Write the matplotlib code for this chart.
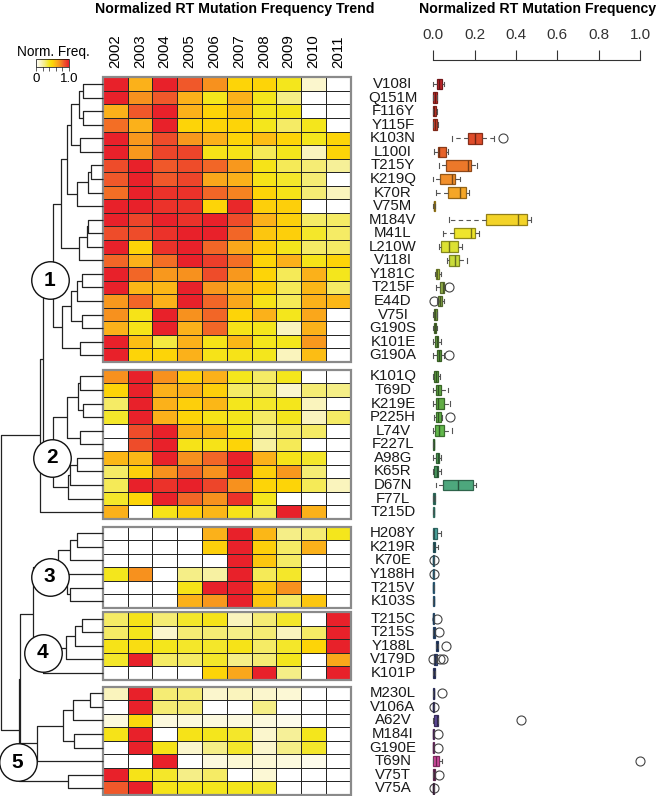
import numpy as np
import matplotlib
matplotlib.use("Agg")
import matplotlib.pyplot as plt
from matplotlib.colors import LinearSegmentedColormap, to_rgb
from matplotlib.patches import Rectangle
from matplotlib.transforms import blended_transform_factory
from matplotlib.cm import ScalarMappable

plt.rcParams["font.family"] = ["Liberation Sans", "DejaVu Sans"]

# ------------------------------------------------------------
# Data
# ------------------------------------------------------------
years = ["2002", "2003", "2004", "2005", "2006", "2007", "2008", "2009", "2010", "2011"]

group1 = ["V108I", "Q151M", "F116Y", "Y115F", "K103N", "L100I", "T215Y", "K219Q", "K70R",
          "V75M", "M184V", "M41L", "L210W", "V118I", "Y181C", "T215F", "E44D", "V75I",
          "G190S", "K101E", "G190A"]
group2 = ["K101Q", "T69D", "K219E", "P225H", "L74V", "F227L", "A98G", "K65R", "D67N",
          "F77L", "T215D"]
group3 = ["H208Y", "K219R", "K70E", "Y188H", "T215V", "K103S"]
group4 = ["T215C", "T215S", "Y188L", "V179D", "K101P"]
group5 = ["M230L", "V106A", "A62V", "M184I", "G190E", "T69N", "V75T", "V75A"]

freq1 = [
    [1.00, .62, 1.00, .85, .72, .50, .50, .40, .12, 0],
    [1.00, .72, .85, .62, .40, .62, .40, .25, 0, 0],
    [.62, .85, 1.00, .62, .50, .58, .40, .40, 0, 0],
    [.80, .62, 1.00, .50, .50, .50, .40, .30, .40, 0],
    [1.00, .70, .88, .70, .62, .50, .58, .50, .40, .50],
    [1.00, .70, .90, .90, .42, .42, .32, .40, .15, .50],
    [.88, 1.00, .85, .88, .82, .70, .42, .32, .28, .22],
    [.85, 1.00, .85, .90, .65, .62, .42, .38, .28, 0],
    [.80, 1.00, .95, .95, .82, .75, .50, .42, .28, .15],
    [1.00, 1.00, .95, .95, .50, .98, .52, .52, 0, 0],
    [1.00, .90, 1.00, .95, 1.00, .88, .62, .52, .30, .30],
    [.88, .88, .95, 1.00, 1.00, .82, .55, .52, .38, .30],
    [1.00, .50, .95, 1.00, .82, .65, .52, .40, .30, .30],
    [.82, .62, .80, 1.00, .92, .80, .50, .62, .42, .50],
    [1.00, .82, .70, .72, .88, .70, .50, .32, .62, .40],
    [1.00, .60, .60, 1.00, .70, .60, .52, .32, .60, .30],
    [.70, .82, .62, 1.00, .82, .65, .42, .32, .62, .60],
    [.72, .42, 1.00, .72, .82, .50, .62, .40, .65, 0],
    [.62, .42, 1.00, .62, .82, .42, .40, .15, .62, 0],
    [1.00, .58, .35, .62, .42, .60, .40, .40, .70, 0],
    [1.00, .50, .50, .62, .42, .42, .40, .15, .58, 0],
]
freq2 = [
    [.72, 1.00, .72, .52, .62, .40, .30, .40, 0, 0],
    [.50, 1.00, .62, .62, .52, .30, .30, .12, .28, .25],
    [.30, 1.00, .62, .52, .60, .40, .38, .40, .15, 0],
    [.38, 1.00, .62, .50, .42, .40, .30, .40, .15, .30],
    [0, .88, 1.00, .62, .60, .40, .25, .30, .30, 0],
    [0, .88, 1.00, .42, .42, .50, .20, .32, 0, 0],
    [.60, .60, 1.00, .72, .82, 1.00, .62, .42, .38, 0],
    [.30, .52, .72, .82, .72, 1.00, .52, .70, .28, 0],
    [.32, 1.00, .95, 1.00, .90, .72, .50, .50, .32, .15],
    [.38, .50, 1.00, .82, .72, .95, .40, 0, 0, 0],
    [.62, 0, .42, .52, .60, .42, .32, 1.00, .62, 0],
]
freq3 = [
    [0, 0, 0, 0, .62, 1.00, .60, .25, .28, .40],
    [0, 0, 0, 0, .52, 1.00, .52, .30, .62, 0],
    [0, 0, 0, 0, 0, 1.00, .55, .30, 0, 0],
    [.40, .72, 0, .25, .20, 1.00, .32, .38, 0, 0],
    [0, 0, 0, .42, 1.00, 1.00, .55, .72, 0, 0],
    [0, 0, 0, .62, .70, 1.00, .55, .30, .55, 0],
]
freq4 = [
    [.30, .42, .28, .38, .42, .15, .28, .38, 0, 1.00],
    [.30, .40, .12, .28, .28, .25, .28, .15, .30, 1.00],
    [.42, .45, .40, .38, .38, .42, .30, .38, .50, 1.00],
    [.38, 1.00, .30, .30, .38, .25, .28, .40, 0, .65],
    [0, 0, 0, 0, .50, .65, 1.00, .25, 0, 1.00],
]
freq5 = [
    [.15, 1.00, .28, .28, .12, .15, .12, .10, 0, 0],
    [0, 1.00, .28, .28, 0, 0, .25, 0, 0, 0],
    [.08, .48, .08, .08, .08, .08, .08, .05, 0, 0],
    [.42, 1.00, 0, .42, .40, .38, .12, .22, .40, 0],
    [0, 1.00, .42, .12, .25, .38, .12, .25, .38, 0],
    [0, 0, 1.00, 0, .08, .10, .10, .08, .05, 0],
    [1.00, .42, .38, .25, .30, 0, .10, 0, 0, 0],
    [.85, 1.00, .42, .40, .40, .40, .38, 0, 0, 0],
]

# boxplot summaries, one per mutation in row order
box_lo = [0, 0, 0, 0, .089, .003, .029, 0, .013, 0, .077, .045, .029, .068, .010, .013, .020,
          0, 0, 0, 0,
          0, 0, 0, .005, 0, 0, 0, 0, .013, 0, 0,
          0, 0, 0, 0, 0, 0,
          0, 0, .013, .003, 0,
          0, 0, 0, 0, 0, 0, 0, 0]
box_q1 = [.019, 0, 0, 0, .168, .024, .061, .034, .069, .002, .253, .098, .039, .077, .013, .034, .024,
          .003, .002, .010, .019,
          .005, .011, .015, .015, .010, 0, .013, .005, .048, 0, 0,
          0, 0, 0, 0, 0, 0,
          0, 0, .013, .003, 0,
          0, 0, .005, 0, 0, 0, 0, 0]
box_med = [.029, .008, .005, .008, .202, .027, .166, .092, .131, .004, .410, .181, .076, .103, .019, .045, .034,
           .010, .008, .016, .027,
           .015, .024, .023, .024, .027, .002, .021, .016, .121, .005, .003,
           .002, .002, 0, 0, 0, .002,
           0, .005, .019, .010, .003,
           .002, 0, .016, 0, 0, .015, .002, 0]
box_q3 = [.040, .016, .014, .018, .237, .061, .181, .105, .160, .006, .453, .202, .121, .126, .029, .050, .040,
          .016, .014, .024, .039,
          .024, .039, .052, .035, .050, .004, .029, .024, .190, .010, .005,
          .019, .008, .001, .001, .003, .004,
          .001, .010, .024, .016, .006,
          .004, .001, .024, .001, .001, .029, .006, .001]
box_hi = [.052, .020, .016, .024, .294, .071, .213, .129, .173, .006, .474, .219, .137, .161, .035, .056, .052,
          .018, .016, .039, .050,
          .032, .071, .081, .040, .089, .005, .039, .037, .206, .010, .005,
          .035, .024, .001, .001, .003, .005,
          .001, .010, .024, .016, .008,
          .004, .001, .024, .001, .001, .042, .006, .001]
box_out = [[], [], [], [], [.339], [], [], [], [], [], [], [], [], [], [], [.076], [.005],
           [], [], [], [.077],
           [], [], [], [.081], [], [], [], [], [], [], [],
           [], [], [.005], [.005], [], [],
           [.019], [.027], [.061], [0.0, .032, .048], [],
           [.044], [.005], [.423], [.023], [.023], [1.0], [.027], [.005]]

# dendrogram: (height, left, right), leaves are row indices
g1_node = (50, (42, (36, (32, (24, (20, 0, 1), (20, 2, 3)), (23, 4, 5)),
                     (26, (15, (12, 6, 7), 8), 9)),
                (24, (16, (15, 10, 11), 12), 13)),
           (41, (32, (26, (21, 14, 15), 16), (21, 17, 18)), (23, 19, 20)))
g2_node = (50, (36, (25, (23, 21, 22), (20, 23, 24)), (23, 25, 26)),
           (35, (33, (26, 27, 28), 29), 30))
g3_node = (45, (33, (26, 32, 33), 34), (36, 35, (33, 36, 37)))
g4_node = (60, (37, (28, (21, 38, 39), 40), 41), 42)
g5_node = (66, (40, (30, (13, 43, 44), 45), (29, 46, 47)), 48)
tree = (101.5, (63, (60, g1_node, g2_node), 31),
        (83.5, (83, (70, g3_node, g4_node), g5_node), (35, 49, 50)))

# cluster badges: label, height, pixel row
badge_text = ["1", "2", "3", "4", "5"]
badge_h = [53, 51, 53, 60, 85]
badge_py = [280, 458, 577, 653, 762]

# ------------------------------------------------------------
# Layout helpers
# ------------------------------------------------------------
W_PX, H_PX = 658, 796
fig = plt.figure(figsize=(W_PX / 100, H_PX / 100), dpi=100)


def px_axes(x0, y0, x1, y1):
    return fig.add_axes([x0 / W_PX, 1 - y1 / H_PX, (x1 - x0) / W_PX, (y1 - y0) / H_PX])


groups = [group1, group2, group3, group4, group5]
freqs = [freq1, freq2, freq3, freq4, freq5]
gaps = [0.57, 0.57, 0.3, 0.5]

tops = []
cur = 0.0
for gi, g in enumerate(groups):
    tops.append(cur)
    cur += len(g) + (gaps[gi] if gi < len(gaps) else 0)
total_h = cur
labels = [m for g in groups for m in g]
row_y = np.concatenate([t + np.arange(len(g)) + 0.5 for t, g in zip(tops, groups)])

heat_top, heat_bot = 77.3, 795.0
unit_px = (heat_bot - heat_top) / total_h

cmap = LinearSegmentedColormap.from_list("normfreq", [
    (0.0, "#ffffff"), (0.12, "#fbf6cc"), (0.25, "#f5ee88"), (0.4, "#f4e61c"),
    (0.5, "#fdd508"), (0.62, "#fbb11a"), (0.72, "#f7921e"), (0.85, "#f0582a"),
    (1.0, "#e8212a")])

# ------------------------------------------------------------
# Heatmap
# ------------------------------------------------------------
ax = px_axes(102.7, heat_top, 350.7, heat_bot)
for t, g, f in zip(tops, groups, freqs):
    xe = np.arange(len(years) + 1)
    ye = t + np.arange(len(g) + 1)
    ax.pcolormesh(xe, ye, np.array(f), cmap=cmap, vmin=0, vmax=1,
                  edgecolors="#262626", linewidth=0.7)
    ax.add_patch(Rectangle((0, t), len(years), len(g), fill=False,
                           edgecolor="#8a8a8a", lw=1.6, clip_on=False))
ax.set_xlim(0, len(years))
ax.set_ylim(total_h, 0)
ax.xaxis.tick_top()
ax.set_xticks(np.arange(len(years)) + 0.5, years)
ax.tick_params(axis="x", length=0, pad=7, labelsize=10.8, labelrotation=90)
ax.set_yticks([])
for s in ax.spines.values():
    s.set_visible(False)

trans = blended_transform_factory(fig.transFigure, ax.transData)
for y, lab in zip(row_y, labels):
    ax.text(393 / W_PX, y, lab, transform=trans, ha="center", va="center",
            fontsize=10.8, color="#1a1a1a")

fig.text(235 / W_PX, 1 - 9 / H_PX, "Normalized RT Mutation Frequency Trend",
         ha="center", va="center", fontsize=10.2, fontweight="bold")

# ------------------------------------------------------------
# Dendrogram
# ------------------------------------------------------------
axd = px_axes(0, heat_top, 102.7, heat_bot)
axd.set_xlim(102.7, 0)
axd.set_ylim(total_h, 0)
axd.axis("off")


def draw(node):
    if isinstance(node, int):
        return row_y[node], 0.0
    h, left, right = node
    y1, h1 = draw(left)
    y2, h2 = draw(right)
    axd.plot([h1, h, h, h2], [y1, y1, y2, y2], color="#222222", lw=0.9,
             solid_capstyle="butt", clip_on=False)
    return (y1 + y2) / 2, h


draw(tree)
for txt, h, py in zip(badge_text, badge_h, badge_py):
    y = (py - heat_top) / unit_px
    axd.plot(h, y, "o", ms=27, mfc="white", mec="#111111", mew=1.0, clip_on=False, zorder=5)
    axd.text(h, y, txt, ha="center", va="center", fontsize=15,
             fontweight="bold", zorder=6)

# ------------------------------------------------------------
# Colour legend
# ------------------------------------------------------------
cax = px_axes(36, 59, 69, 67)
cb = fig.colorbar(ScalarMappable(cmap=cmap, norm=plt.Normalize(0, 1)), cax=cax,
                  orientation="horizontal", ticks=np.linspace(0, 1, 6))
cb.ax.set_xticklabels(["0", "", "", "", "", "1.0"])
cb.ax.tick_params(length=3, width=0.6, labelsize=9.5, pad=1, color="#444444")
cb.outline.set_linewidth(0.5)
fig.text(53 / W_PX, 1 - 52 / H_PX, "Norm. Freq.", ha="center", va="center", fontsize=9.8)

# ------------------------------------------------------------
# Boxplots
# ------------------------------------------------------------
x0_px, x1_px = 433.3, 640.0
scale = x1_px - x0_px
axb = px_axes(420, 60, 658, heat_bot)
axb.set_xlim(-(x0_px - 420) / scale, (658 - x0_px) / scale)
axb.set_ylim(total_h, -(heat_top - 60) / unit_px)

stats = [dict(whislo=a, q1=b, med=c, q3=d, whishi=e, fliers=f)
         for a, b, c, d, e, f in zip(box_lo, box_q1, box_med, box_q3, box_hi, box_out)]
bp = axb.bxp(stats, positions=row_y, widths=0.78, orientation="horizontal",
             patch_artist=True, manage_ticks=False, capwidths=0.35,
             whiskerprops=dict(linestyle=(0, (4, 3)), color="#555555", lw=0.8),
             capprops=dict(color="#555555", lw=0.8),
             medianprops=dict(lw=1.0),
             flierprops=dict(marker="o", ms=6.5, mfc="none", mec="#444444", mew=0.8))

box_cmap = LinearSegmentedColormap.from_list("rows", [
    (0.0, "#c0262b"), (4 / 50, "#e04d2a"), (7 / 50, "#f3922a"), (9 / 50, "#f7c223"),
    (11 / 50, "#eee52c"), (13 / 50, "#c8dc3a"), (15 / 50, "#8fae4a"), (20 / 50, "#5f9e3f"),
    (25 / 50, "#62b84a"), (28 / 50, "#4a9a5e"), (30 / 50, "#4fb49a"), (31 / 50, "#5ac4ac"),
    (33 / 50, "#3e8a98"), (35 / 50, "#4aaad2"), (40 / 50, "#3c5fa0"), (45 / 50, "#5a4a9a"),
    (48 / 50, "#d44aa0"), (1.0, "#6a3a6a")])
for i, (box, med) in enumerate(zip(bp["boxes"], bp["medians"])):
    c = np.array(to_rgb(box_cmap(i / (len(labels) - 1))))
    box.set_facecolor(c)
    box.set_edgecolor(c * 0.6)
    box.set_linewidth(0.9)
    med.set_color(c * 0.5)

axb.xaxis.tick_top()
axb.set_xticks(np.linspace(0, 1, 6), ["0.0", "0.2", "0.4", "0.6", "0.8", "1.0"])
axb.tick_params(axis="x", length=7.5, width=0.8, pad=5.5, labelsize=11,
                labelcolor="#333333", color="#333333")
axb.set_yticks([])
for side in ["left", "right", "bottom"]:
    axb.spines[side].set_visible(False)
axb.spines["top"].set_bounds(0, 1)
axb.spines["top"].set_color("#333333")
axb.spines["top"].set_linewidth(0.8)

fig.text(538 / W_PX, 1 - 9 / H_PX, "Normalized RT Mutation Frequency",
         ha="center", va="center", fontsize=10.2, fontweight="bold")

fig.savefig("out.png", dpi=100)
